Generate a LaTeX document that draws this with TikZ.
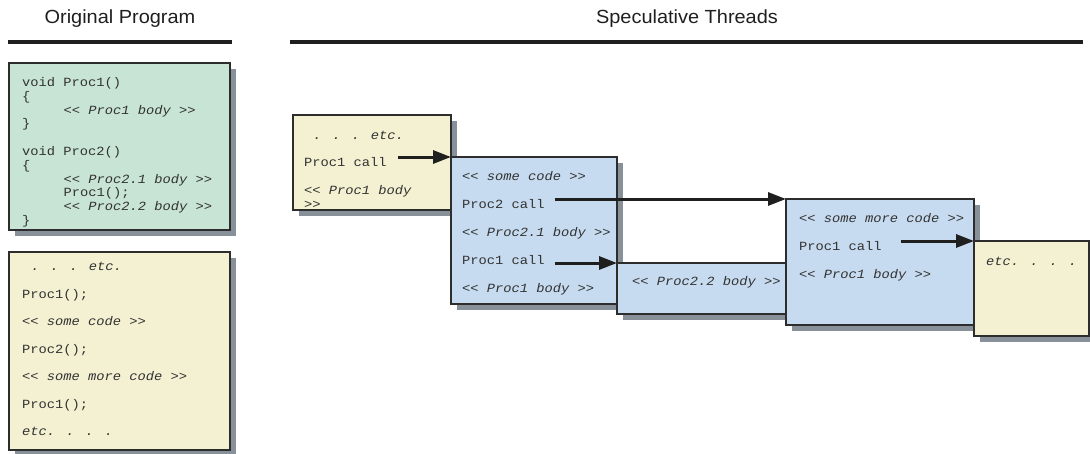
\documentclass[tikz,border=0pt]{standalone}
\usepackage{fontspec}
\setmainfont{Liberation Sans}[FakeStretch=1.05]
\newfontfamily\codefont{Liberation Mono}[FakeStretch=1.1]
\usetikzlibrary{arrows.meta,shadows}

\definecolor{progfill}{RGB}{200,228,212}
\definecolor{mainfill}{RGB}{243,241,210}
\definecolor{procfill}{RGB}{199,219,240}
\definecolor{boxshadow}{RGB}{136,144,153}
\definecolor{boxline}{RGB}{45,45,45}
\definecolor{codegray}{RGB}{50,50,50}

\begin{document}
\begin{tikzpicture}[
    x=1pt, y=-1pt,
    codebox/.style={rectangle, draw=boxline, line width=1.1pt, anchor=north west,
        inner sep=0pt, outer sep=0pt,
        drop shadow={shadow xshift=6pt, shadow yshift=-6pt, fill=boxshadow, opacity=1}},
    codeline/.style={anchor=base west, inner sep=0pt, text=codegray,
        font=\codefont\fontsize{12.5}{14}\selectfont},
    headtext/.style={anchor=base, inner sep=0pt, text=black!88,
        font=\fontsize{19}{21}\selectfont},
    headrule/.style={line width=4pt, black!88},
    callarrow/.style={-{Triangle[length=18pt, width=13pt]}, line width=3pt, black!88}
]
    \useasboundingbox (0,0) rectangle (1090,453);

    % Headings
    \node[headtext] (origtitle) at (120,23.5) {Original Program};
    \node[headtext] (spectitle) at (687,23.5) {Speculative Threads};
    \draw[headrule] (8,42) -- (232,42);
    \draw[headrule] (290,42) -- (1083,42);

    % Original program: procedures
    \node[codebox, fill=progfill, minimum width=221pt, minimum height=167pt] (procs) at (9,63) {};
    \node[codeline] (p1) at (22,86.5) {void Proc1()};
    \node[codeline] (p2) at (22,100.3) {\{};
    \node[codeline] (p3) at (63.5,114.1) {\itshape << Proc1 body >>};
    \node[codeline] (p4) at (22,127.9) {\}};
    \node[codeline] (p5) at (22,155.5) {void Proc2()};
    \node[codeline] (p6) at (22,169.3) {\{};
    \node[codeline] (p7) at (63.5,183.1) {\itshape << Proc2.1 body >>};
    \node[codeline] (p8) at (63.5,196.9) {Proc1();};
    \node[codeline] (p9) at (63.5,210.7) {\itshape << Proc2.2 body >>};
    \node[codeline] (p10) at (22,224.5) {\}};

    % Original program: main code
    \node[codebox, fill=mainfill, minimum width=221pt, minimum height=198pt] (mainprog) at (9,252) {};
    \foreach \t [count=\i] in {{\hspace*{9pt}\itshape . . . etc.}, {Proc1();},
            {\itshape << some code >>}, {Proc2();}, {\itshape << some more code >>},
            {Proc1();}, {\itshape etc. . . .}}
        \node[codeline] (m\i) at (22,243+27.5*\i) {\t};

    % Thread A
    \node[codebox, fill=mainfill, minimum width=158pt, minimum height=95pt] (thrA) at (293,115) {};
    \node[codeline] (a1) at (304,139.5) {\hspace*{9pt}\itshape . . . etc.};
    \node[codeline] (acall) at (304,166.5) {Proc1 call};
    \node[codeline] (a3) at (304,194.5) {\itshape << Proc1 body};
    \node[codeline] (a4) at (304,208.3) {\itshape >>};

    % Thread B
    \node[codebox, fill=procfill, minimum width=166pt, minimum height=147pt] (thrB) at (451,157) {};
    \node[codeline] (b1) at (462,180.5) {\itshape << some code >>};
    \node[codeline] (bcall2) at (462,208.5) {Proc2 call};
    \node[codeline] (b3) at (462,236.5) {\itshape << Proc2.1 body >>};
    \node[codeline] (bcall1) at (462,264.5) {Proc1 call};
    \node[codeline] (b5) at (462,292.5) {\itshape << Proc1 body >>};

    % Thread C
    \node[codebox, fill=procfill, minimum width=169pt, minimum height=51pt] (thrC) at (617,263) {};
    \node[codeline] (c1) at (632,285.5) {\itshape << Proc2.2 body >>};

    % Thread D
    \node[codebox, fill=procfill, minimum width=188pt, minimum height=126pt] (thrD) at (786,199) {};
    \node[codeline] (d1) at (799,222.5) {\itshape << some more code >>};
    \node[codeline] (dcall) at (799,250.5) {Proc1 call};
    \node[codeline] (d3) at (799,278.5) {\itshape << Proc1 body >>};

    % Thread E
    \node[codebox, fill=mainfill, minimum width=115pt, minimum height=95pt] (thrE) at (974,241) {};
    \node[codeline] (e1) at (986,265.5) {\itshape etc. . . .};

    % Calls spawning the next thread
    \draw[callarrow] ([xshift=11pt]thrB.north west -| acall.east) -- (thrB.north west);
    \draw[callarrow] ([xshift=10pt]thrD.north west -| bcall2.east) -- (thrD.north west);
    \draw[callarrow] ([xshift=10pt]thrC.north west -| bcall1.east) -- (thrC.north west);
    \draw[callarrow] ([xshift=19pt]thrE.north west -| dcall.east) -- (thrE.north west);
\end{tikzpicture}
\end{document}
